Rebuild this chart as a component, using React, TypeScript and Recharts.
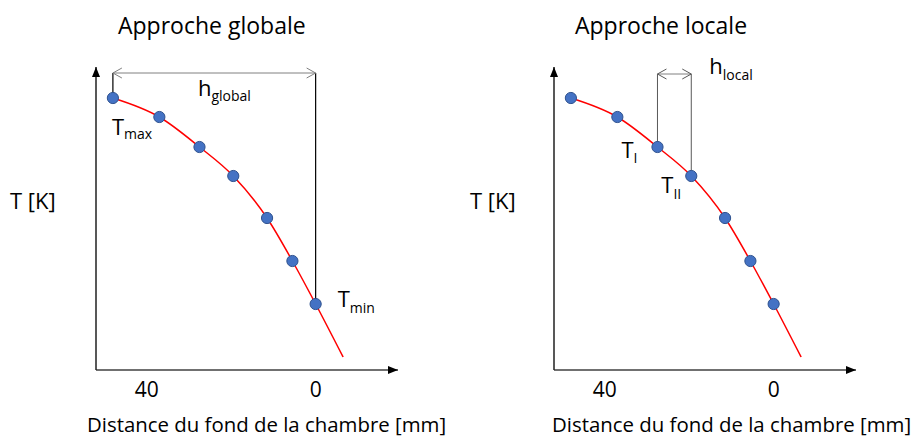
import React from 'react';
import {
  ComposedChart,
  Line,
  Scatter,
  XAxis,
  YAxis,
  ReferenceLine,
  ReferenceDot,
} from 'recharts';

// ---- data ----
const distances = [48, 37, 27.5, 19.5, 11.5, 5.5, 0];
const temperatures = [272, 253, 223, 194, 152, 109, 66];
const curveEndDistance = -6.5;
const curveEndTemperature = 13;
const xTicks = [40, 0];
const panelTitles = ['Approche globale', 'Approche locale'];
const yAxisTitle = 'T [K]';
const xAxisTitle = 'Distance du fond de la chambre [mm]';

const X_DOMAIN: [number, number] = [-19.5, 52];
const Y_DOMAIN: [number, number] = [0, 303];
const H_GLOBAL_T = 297;
const H_LOCAL_T = 296;

const pointData = distances.map((d, i) => ({ d, t: temperatures[i] }));
const curveData = [...pointData, { d: curveEndDistance, t: curveEndTemperature }];

const FONT = '"Open Sans", sans-serif';
const PANEL_W = 458;
const PANEL_H = 439;

const Dot = (props: any) => {
  const { cx, cy } = props;
  if (cx == null || cy == null) return <g />;
  return <circle cx={cx} cy={cy} r={5.6} fill="#4472C4" stroke="#2F528F" strokeWidth={1} />;
};

const upTriangle = (props: any) => {
  const { cx, cy } = props;
  return <path d={`M${cx},${cy} L${cx - 4},${cy + 10} L${cx + 4},${cy + 10} Z`} fill="#000" />;
};
const rightTriangle = (props: any) => {
  const { cx, cy } = props;
  return <path d={`M${cx},${cy} L${cx - 10},${cy - 4} L${cx - 10},${cy + 4} Z`} fill="#000" />;
};

const chevron = (dir: 1 | -1, color: string) => (props: any) => {
  const { cx, cy } = props;
  return (
    <path
      d={`M${cx + dir * 9},${cy - 5} L${cx},${cy} L${cx + dir * 9},${cy + 5}`}
      fill="none"
      stroke={color}
      strokeWidth={1}
    />
  );
};

const subLabel = (main: string, sub: string, dx: number, dy: number, subDy: number) => (props: any) => {
  const { cx, cy } = props;
  return (
    <text x={cx + dx} y={cy + dy} fontFamily={FONT} fontSize={22} fill="#000">
      {main}
      <tspan fontSize={14} dy={subDy}>
        {sub}
      </tspan>
    </text>
  );
};

const Panel = ({ variant, left }: { variant: 'global' | 'local'; left: number }) => {
  const isGlobal = variant === 'global';
  const title = isGlobal ? panelTitles[0] : panelTitles[1];
  const xLabelX = isGlobal ? 87 : 94;
  return (
    <div style={{ position: 'absolute', left, top: 0, width: PANEL_W + 8, height: PANEL_H }}>
      <ComposedChart
        width={PANEL_W}
        height={PANEL_H}
        data={curveData}
        margin={{ top: 67, right: 60, bottom: 29, left: 95 }}
      >
        <XAxis
          dataKey="d"
          type="number"
          domain={X_DOMAIN}
          reversed
          ticks={xTicks}
          interval={0}
          allowDataOverflow
          tickLine={false}
          tickMargin={6}
          axisLine={{ stroke: '#404040', strokeWidth: 1.5 }}
          height={40}
          tick={{ fontSize: 21, fill: '#000', fontFamily: FONT }}
        />
        <YAxis
          dataKey="t"
          type="number"
          domain={Y_DOMAIN}
          allowDataOverflow
          width={1}
          tick={false}
          tickLine={false}
          axisLine={{ stroke: '#202020', strokeWidth: 1.5 }}
        />
        {isGlobal ? (
          <>
            <ReferenceLine
              segment={[{ x: distances[0], y: temperatures[0] }, { x: distances[0], y: H_GLOBAL_T }]}
              stroke="#000"
              strokeWidth={1.2}
            />
            <ReferenceLine
              segment={[{ x: distances[6], y: temperatures[6] }, { x: distances[6], y: H_GLOBAL_T }]}
              stroke="#000"
              strokeWidth={1.2}
            />
            <ReferenceLine
              segment={[{ x: distances[0], y: H_GLOBAL_T }, { x: distances[6], y: H_GLOBAL_T }]}
              stroke="#808080"
              strokeWidth={1}
            />
            <ReferenceDot x={distances[0]} y={H_GLOBAL_T} ifOverflow="visible" shape={chevron(1, '#808080')} />
            <ReferenceDot x={distances[6]} y={H_GLOBAL_T} ifOverflow="visible" shape={chevron(-1, '#808080')} />
            <ReferenceDot x={distances[0]} y={H_GLOBAL_T} ifOverflow="visible" shape={subLabel('h', 'global', 85, 23, 5)} />
            <ReferenceDot x={distances[0]} y={temperatures[0]} ifOverflow="visible" shape={subLabel('T', 'max', -1, 37, 4)} />
            <ReferenceDot x={distances[6]} y={temperatures[6]} ifOverflow="visible" shape={subLabel('T', 'min', 22, 3, 6)} />
          </>
        ) : (
          <>
            <ReferenceLine
              segment={[{ x: distances[2], y: temperatures[2] }, { x: distances[2], y: H_LOCAL_T }]}
              stroke="#595959"
              strokeWidth={1}
            />
            <ReferenceLine
              segment={[{ x: distances[3], y: temperatures[3] }, { x: distances[3], y: H_LOCAL_T }]}
              stroke="#595959"
              strokeWidth={1}
            />
            <ReferenceLine
              segment={[{ x: distances[2], y: H_LOCAL_T }, { x: distances[3], y: H_LOCAL_T }]}
              stroke="#808080"
              strokeWidth={1}
            />
            <ReferenceDot x={distances[2]} y={H_LOCAL_T} ifOverflow="visible" shape={chevron(1, '#595959')} />
            <ReferenceDot x={distances[3]} y={H_LOCAL_T} ifOverflow="visible" shape={chevron(-1, '#595959')} />
            <ReferenceDot x={distances[3]} y={H_LOCAL_T} ifOverflow="visible" shape={subLabel('h', 'local', 18, 0, 6)} />
            <ReferenceDot x={distances[2]} y={temperatures[2]} ifOverflow="visible" shape={subLabel('T', 'I', -36, 11, 5)} />
            <ReferenceDot x={distances[3]} y={temperatures[3]} ifOverflow="visible" shape={subLabel('T', 'II', -30, 17, 6)} />
          </>
        )}
        <ReferenceDot x={X_DOMAIN[1]} y={Y_DOMAIN[1]} ifOverflow="visible" shape={upTriangle} />
        <ReferenceDot x={X_DOMAIN[0]} y={Y_DOMAIN[0]} ifOverflow="visible" shape={rightTriangle} />
        <Line
          type="monotone"
          dataKey="t"
          stroke="#FF0000"
          strokeWidth={1.5}
          dot={false}
          activeDot={false}
          isAnimationActive={false}
        />
        <Scatter data={pointData} dataKey="t" shape={<Dot />} isAnimationActive={false} />
      </ComposedChart>
      <svg
        width={PANEL_W + 8}
        height={PANEL_H}
        style={{ position: 'absolute', left: 0, top: 0, pointerEvents: 'none' }}
      >
        <text x={isGlobal ? 118 : 117} y={34} fontFamily={FONT} fontSize={23} fill="#000">
          {title}
        </text>
        <text x={isGlobal ? 10 : 12} y={209} fontFamily={FONT} fontSize={22} fill="#000">
          {yAxisTitle}
        </text>
        <text x={xLabelX} y={432} fontFamily={FONT} fontSize={20.4} fill="#000">
          {xAxisTitle}
        </text>
      </svg>
    </div>
  );
}

export default function App() {
  return (
    <div
      style={{
        position: 'absolute',
        left: 0,
        top: 0,
        width: 924,
        height: 439,
        background: '#fff',
        overflow: 'hidden',
      }}
    >
      <Panel variant="global" left={0} />
      <Panel variant="local" left={458} />
    </div>
  );
}
